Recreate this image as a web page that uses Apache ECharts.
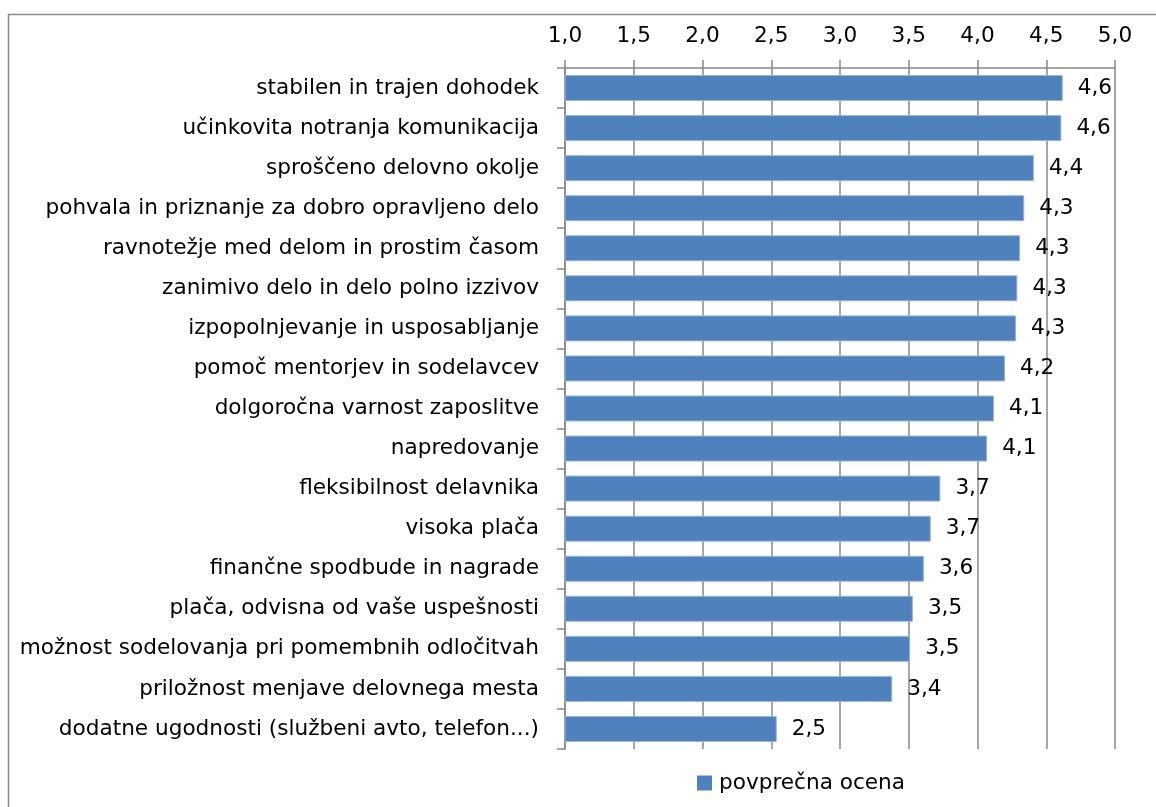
<!DOCTYPE html>
<html>
<head>
<meta charset="utf-8">
<script src="https://cdn.jsdelivr.net/npm/echarts@6/dist/echarts.min.js"></script>
<style>
  html, body { margin: 0; padding: 0; background: #fff; }
  #chart { width: 1156px; height: 807px; }
</style>
</head>
<body>
<div id="chart"></div>
<script>
// Dejavniki motivacije – povprečna ocena (lestvica 1–5)
const categories = [
  'stabilen in trajen dohodek',
  'učinkovita notranja komunikacija',
  'sproščeno delovno okolje',
  'pohvala in priznanje za dobro opravljeno delo',
  'ravnotežje med delom in prostim časom',
  'zanimivo delo in delo polno izzivov',
  'izpopolnjevanje in usposabljanje',
  'pomoč mentorjev in sodelavcev',
  'dolgoročna varnost zaposlitve',
  'napredovanje',
  'fleksibilnost delavnika',
  'visoka plača',
  'finančne spodbude in nagrade',
  'plača, odvisna od vaše uspešnosti',
  'možnost sodelovanja pri pomembnih odločitvah',
  'priložnost menjave delovnega mesta',
  'dodatne ugodnosti (službeni avto, telefon...)'
];
const averageScores = [4.62, 4.61, 4.41, 4.34, 4.31, 4.29, 4.28, 4.20, 4.12, 4.07, 3.73, 3.66, 3.61, 3.53, 3.51, 3.38, 2.54];
const seriesName = 'povprečna ocena';
const scaleMin = 1;
const scaleMax = 5;
const scaleStep = 0.5;

const FONT = 'DejaVu Sans';
const FONT_SIZE = 21.6;
const fmt = v => Number(v).toFixed(1).replace('.', ',');
const gridGray = '#888888';

const chart = echarts.init(document.getElementById('chart'), null, { renderer: 'canvas' });
chart.setOption({
  animation: false,
  backgroundColor: '#fff',
  textStyle: { fontFamily: FONT, color: '#000' },
  graphic: [{
    type: 'rect',
    shape: { x: 8.5, y: 14.5, width: 1400, height: 1000 },
    style: { fill: 'none', stroke: '#8c8c8c', lineWidth: 1.5 },
    silent: true,
    z: -10
  }],
  grid: { left: 565, right: 41, top: 68, bottom: 58 },
  legend: {
    data: [seriesName],
    left: 692,
    top: 767,
    icon: 'rect',
    itemWidth: 15,
    itemHeight: 15,
    itemStyle: { color: '#4f81bd', borderWidth: 0 },
    textStyle: { fontFamily: FONT, fontSize: FONT_SIZE, color: '#000', padding: [0, 0, 0, 2] }
  },
  xAxis: {
    type: 'value',
    position: 'top',
    min: scaleMin,
    max: scaleMax,
    interval: scaleStep,
    axisLine: { show: true, lineStyle: { color: gridGray, width: 1.5 } },
    axisTick: { show: true, inside: false, length: 8, lineStyle: { color: gridGray, width: 1.5 } },
    splitLine: { show: true, lineStyle: { color: gridGray, width: 1.5 } },
    axisLabel: {
      margin: 21,
      fontFamily: FONT,
      fontSize: FONT_SIZE,
      color: '#000',
      formatter: v => fmt(v)
    }
  },
  yAxis: {
    type: 'category',
    data: categories,
    inverse: true,
    axisLine: { show: true, lineStyle: { color: gridGray, width: 1.5 } },
    axisTick: { show: true, length: 8, alignWithLabel: false, lineStyle: { color: gridGray, width: 1.5 } },
    axisLabel: {
      margin: 26,
      fontFamily: FONT,
      fontSize: FONT_SIZE,
      color: '#000'
    }
  },
  series: [{
    name: seriesName,
    type: 'bar',
    data: averageScores,
    barWidth: 26,
    itemStyle: { color: '#4f81bd', borderColor: '#9ab7dc', borderWidth: 1 },
    label: {
      show: true,
      position: 'right',
      distance: 15,
      fontFamily: FONT,
      fontSize: FONT_SIZE,
      color: '#000',
      formatter: p => fmt(p.value)
    }
  }]
});
</script>
</body>
</html>
